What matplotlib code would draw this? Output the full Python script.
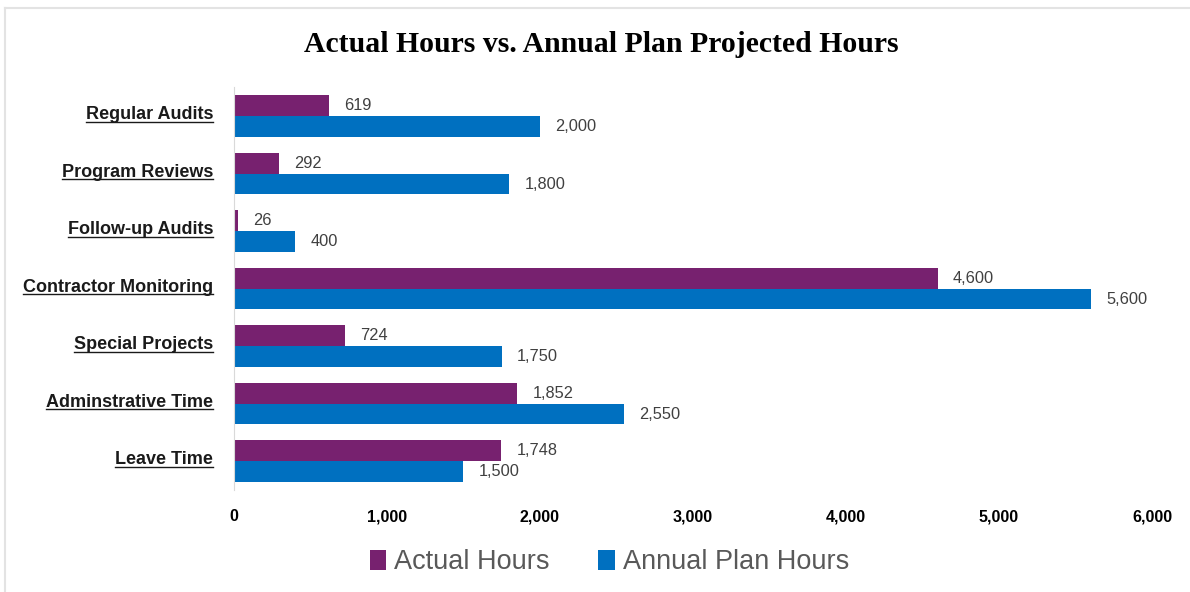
import matplotlib
matplotlib.use("Agg")
import matplotlib.pyplot as plt
from matplotlib.lines import Line2D
from matplotlib.transforms import ScaledTranslation
import numpy as np

categories = ["Regular Audits", "Program Reviews", "Follow-up Audits", "Contractor Monitoring",
              "Special Projects", "Adminstrative Time", "Leave Time"]
actual_hours = [619, 292, 26, 4600, 724, 1852, 1748]
plan_hours = [2000, 1800, 400, 5600, 1750, 2550, 1500]
xticks = [0, 1000, 2000, 3000, 4000, 5000, 6000]
series_names = ["Actual Hours", "Annual Plan Hours"]

PURPLE = "#77216F"
BLUE = "#0070C0"
SANS = ["Liberation Sans", "DejaVu Sans"]

fig = plt.figure(figsize=(11.9, 5.92), dpi=100)
fig.patch.set_facecolor("white")
# light frame lines (top and left) as in the reference
fig.add_artist(Line2D([5/1190, 1.0], [1 - 8/592, 1 - 8/592], transform=fig.transFigure,
                      color="#E3E3E3", linewidth=1.5))
fig.add_artist(Line2D([5/1190, 5/1190], [0.0, 1 - 8/592], transform=fig.transFigure,
                      color="#E3E3E3", linewidth=1.5))

ax = fig.add_axes([0.1966, 0.1727, 0.9681 - 0.1966, 0.8526 - 0.1727])
y = np.arange(len(categories))
h = 0.365
ax.barh(y - h/2, actual_hours, height=h, color=PURPLE, label=series_names[0])
ax.barh(y + h/2, plan_hours, height=h, color=BLUE, label=series_names[1])
ax.set_ylim(len(categories) - 0.5, -0.5)
ax.set_xlim(0, 6000)

for yi, v in zip(y, actual_hours):
    ax.annotate(f"{v:,}", (v, yi - h/2), xytext=(11, 0), textcoords="offset points",
                va="center", ha="left", fontsize=11.8, color="#404040", family=SANS)
for yi, v in zip(y, plan_hours):
    ax.annotate(f"{v:,}", (v, yi + h/2), xytext=(11, 0), textcoords="offset points",
                va="center", ha="left", fontsize=11.8, color="#404040", family=SANS)

for s in ["top", "right", "bottom"]:
    ax.spines[s].set_visible(False)
ax.spines["left"].set_color("#D9D9D9")
ax.set_xticks(xticks)
ax.set_xticklabels([f"{t:,}" for t in xticks], fontsize=11.5, fontweight="bold", family=SANS)
ax.tick_params(axis="x", length=0, pad=14)
ax.set_yticks(y)
ax.set_yticklabels(categories, fontsize=13, fontweight="bold", color="#1a1a1a", family=SANS)
ax.tick_params(axis="y", length=0, pad=15)
shift = ScaledTranslation(0, 2.5 / 72, fig.dpi_scale_trans)
for lbl in ax.get_yticklabels():
    lbl.set_transform(lbl.get_transform() + shift)

fig.text(0.505, 0.925, "Actual Hours vs. Annual Plan Projected Hours", ha="center", va="center",
         fontsize=21.4, fontweight="bold", family=["Liberation Serif", "DejaVu Serif"])

leg = fig.legend(loc="center", bbox_to_anchor=(0.512, 0.05), ncol=2, frameon=False,
                 prop={"family": SANS, "size": 19.5},
                 handlelength=0.6, handleheight=0.8, handletextpad=0.3, columnspacing=1.8)
for t in leg.get_texts():
    t.set_color("#595959")

# underline category labels
fig.canvas.draw()
renderer = fig.canvas.get_renderer()
inv = fig.transFigure.inverted()
for lbl in ax.get_yticklabels():
    bb = lbl.get_window_extent(renderer)
    (x0, y0), (x1, y1) = inv.transform([(bb.x0, bb.y0), (bb.x1, bb.y1)])
    yy = y0 + 1.5 / 592
    fig.add_artist(Line2D([x0, x1], [yy, yy], transform=fig.transFigure,
                          color="#1a1a1a", linewidth=1.0))

fig.savefig("out.png", dpi=100, facecolor="white")
